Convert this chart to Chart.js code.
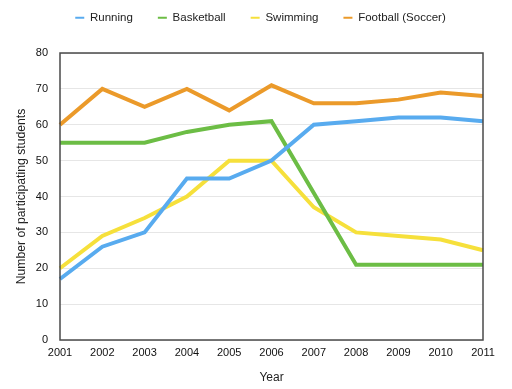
<!DOCTYPE html>
<html>
<head>
<meta charset="utf-8">
<script src="https://cdn.jsdelivr.net/npm/chart.js@4/dist/chart.umd.min.js"></script>
<style>
html,body{margin:0;padding:0;background:#fff;}
#wrap{width:512px;height:389px;position:relative;}
</style>
</head>
<body>
<div id="wrap"><canvas id="c" width="512" height="389"></canvas></div>
<script>
const years = ["2001","2002","2003","2004","2005","2006","2007","2008","2009","2010","2011"];
const running = [17, 26, 30, 45, 45, 50, 60, 61, 62, 62, 61];
const basketball = [55, 55, 55, 58, 60, 61, 41, 21, 21, 21, 21];
const swimming = [20, 29, 34, 40, 50, 50, 37, 30, 29, 28, 25];
const football = [60, 70, 65, 70, 64, 71, 66, 66, 67, 69, 68];
const seriesNames = ["Running", "Basketball", "Swimming", "Football (Soccer)"];
const colors = ["#58abef", "#6cbd45", "#f6e03b", "#eb9a2a"];

const FONT = "'Liberation Sans', Arial, Helvetica, sans-serif";
const frame = {
  id: 'frame',
  beforeLayout(chart) {
    const lg = chart.legend;
    if (lg && !lg._patched) {
      const f = lg.fit.bind(lg);
      lg.fit = function () { f(); this.height = 66; };
      lg._patched = true;
    }
  },
  afterLayout(chart) {
    const lg = chart.legend;
    if (lg) { lg.left += 12; lg.right += 12; }
  },
  afterDatasetsDraw(chart) {
    const a = chart.chartArea, ctx = chart.ctx;
    ctx.save();
    ctx.strokeStyle = '#4a4a4a';
    ctx.lineWidth = 1.5;
    ctx.strokeRect(a.left, a.top, a.right - a.left, a.bottom - a.top);
    ctx.restore();
  }
};

const ds = [running, basketball, swimming, football].map((d, i) => ({
  label: seriesNames[i],
  data: d,
  borderColor: colors[i],
  backgroundColor: colors[i],
  borderWidth: 4,
  pointRadius: 0,
  tension: 0,
  borderJoinStyle: 'miter',
  fill: false
}));

new Chart(document.getElementById('c'), {
  type: 'line',
  data: { labels: years, datasets: ds },
  plugins: [frame],
  options: {
    responsive: false,
    animation: false,
    layout: { padding: { top: -13, left: 14, right: 29, bottom: 4 } },
    plugins: {
      legend: {
        position: 'top',
        labels: {
          usePointStyle: true,
          pointStyle: 'line',
          pointStyleWidth: 9,
          boxWidth: 10,
          color: '#222',
          padding: 25,
          font: { family: FONT, size: 11.5 },
          generateLabels(chart) {
            return chart.data.datasets.map((d, i) => ({
              text: d.label,
              fillStyle: d.borderColor,
              strokeStyle: d.borderColor,
              lineWidth: 2,
              pointStyle: 'line',
              hidden: false,
              datasetIndex: i,
              fontColor: '#222'
            }));
          }
        }
      },
      tooltip: { enabled: false }
    },
    scales: {
      x: {
        offset: false,
        grid: { display: false, drawTicks: false },
        border: { display: false },
        ticks: { color: '#111', font: { family: FONT, size: 11 }, padding: 6, maxRotation: 0, autoSkip: false },
        title: { display: true, text: 'Year', color: '#222', font: { family: FONT, size: 12 }, padding: { top: 3, bottom: 0 } },
        afterFit(s) { s.height = 45; }
      },
      y: {
        min: 0, max: 80,
        grid: { color: '#e6e6e6', lineWidth: 1, drawTicks: false },
        border: { display: false },
        ticks: { stepSize: 10, color: '#111', font: { family: FONT, size: 11 }, padding: 12 },
        title: { display: true, text: 'Number of participating students', color: '#222', font: { family: FONT, size: 12.2 }, padding: { top: 0, bottom: 6 } },
        afterFit(s) { s.width = 46; }
      }
    }
  }
});
</script>
</body>
</html>
